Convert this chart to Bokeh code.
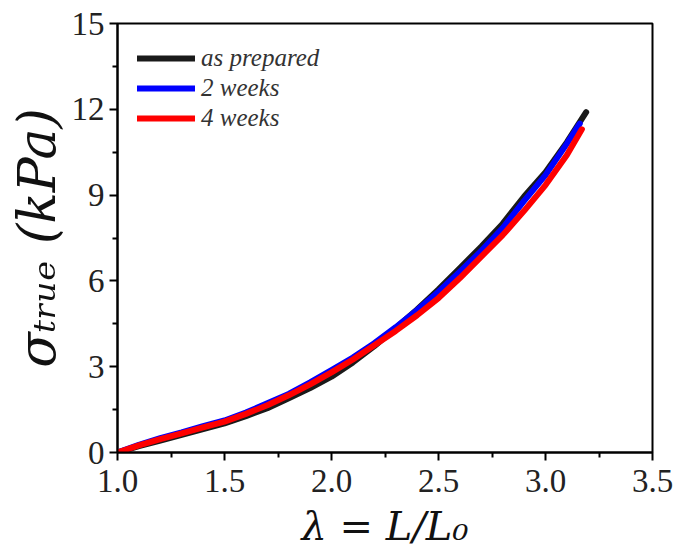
from bokeh.plotting import figure
from bokeh.models import (FixedTicker, PrintfTickFormatter, Legend,
                          LegendItem, Range1d)
from bokeh.embed import file_html
from bokeh.resources import INLINE

# ---- data ----
lam_prep = [1.0, 1.1, 1.2, 1.3, 1.4, 1.5, 1.6, 1.7, 1.8, 1.9, 2.0, 2.1, 2.2,
            2.3, 2.4, 2.5, 2.6, 2.7, 2.8, 2.9, 3.0, 3.1, 3.19]
sig_prep = [0.0, 0.22, 0.42, 0.62, 0.82, 1.02, 1.27, 1.55, 1.9, 2.25, 2.65,
            3.15, 3.72, 4.35, 5.0, 5.7, 6.45, 7.2, 8.0, 8.95, 9.8, 10.85, 11.9]

lam_2w = [1.0, 1.1, 1.2, 1.3, 1.4, 1.5, 1.6, 1.7, 1.8, 1.9, 2.0, 2.1, 2.2,
          2.3, 2.4, 2.5, 2.6, 2.7, 2.8, 2.9, 3.0, 3.1, 3.16]
sig_2w = [0.0, 0.27, 0.5, 0.7, 0.92, 1.12, 1.4, 1.72, 2.05, 2.45, 2.88, 3.32,
          3.82, 4.38, 4.98, 5.62, 6.32, 7.05, 7.85, 8.8, 9.7, 10.8, 11.5]

lam_4w = [1.0, 1.1, 1.2, 1.3, 1.4, 1.5, 1.6, 1.7, 1.8, 1.9, 2.0, 2.1, 2.2,
          2.3, 2.4, 2.5, 2.6, 2.7, 2.8, 2.9, 3.0, 3.1, 3.17]
sig_4w = [0.0, 0.25, 0.47, 0.67, 0.88, 1.08, 1.35, 1.65, 2.0, 2.38, 2.8, 3.25,
          3.75, 4.25, 4.8, 5.4, 6.1, 6.85, 7.6, 8.45, 9.35, 10.4, 11.3]

series_names = ["as prepared", "2 weeks", "4 weeks"]
series_colors = ["#1a1a1a", "#0000ff", "#ff0000"]

x_ticks = [1.0, 1.5, 2.0, 2.5, 3.0, 3.5]
x_minor = [1.25, 1.75, 2.25, 2.75, 3.25]
y_ticks = [0, 3, 6, 9, 12, 15]
y_minor = [1.5, 4.5, 7.5, 10.5, 13.5]

x_label = "λ = L/L₀"
y_label = "σₜᵣᵤₑ (kPa)"

SERIF = "Liberation Serif"
MATH = "DejaVu Serif"

p = figure(width=676, height=560, output_backend="svg", toolbar_location=None,
           x_range=Range1d(1.0, 3.5), y_range=Range1d(0, 15),
           min_border_left=117, min_border_right=24, min_border_top=23,
           min_border_bottom=108)
p.grid.visible = False
p.outline_line_color = "black"
p.outline_line_width = 2
p.background_fill_color = "white"
p.border_fill_color = "white"

renderers = []
for xs, ys, c in [(lam_prep, sig_prep, series_colors[0]),
                  (lam_2w, sig_2w, series_colors[1]),
                  (lam_4w, sig_4w, series_colors[2])]:
    r = p.line(xs, ys, line_color=c, line_width=6, line_join="round",
               line_cap="round")
    renderers.append(r)

for ax in (p.xaxis[0], p.yaxis[0]):
    ax.axis_line_width = 2
    ax.axis_line_color = "black"
    ax.major_tick_line_width = 2
    ax.minor_tick_line_width = 2
    ax.major_tick_out = 8
    ax.major_tick_in = 0
    ax.minor_tick_out = 5
    ax.minor_tick_in = 0
    ax.major_label_text_font = SERIF
    ax.major_label_text_font_size = "33px"
    ax.major_label_text_color = "#222222"
    ax.axis_label_text_font = MATH
    ax.axis_label_text_font_style = "italic"
    ax.axis_label_text_color = "#111111"

p.xaxis[0].ticker = FixedTicker(ticks=x_ticks, minor_ticks=x_minor)
p.yaxis[0].ticker = FixedTicker(ticks=y_ticks, minor_ticks=y_minor)
p.xaxis[0].formatter = PrintfTickFormatter(format="%.1f")
p.yaxis[0].formatter = PrintfTickFormatter(format="%d")
p.xaxis[0].major_label_standoff = 9
p.yaxis[0].major_label_standoff = 5

p.xaxis[0].axis_label = x_label
p.xaxis[0].axis_label_text_font_size = "40px"
p.xaxis[0].axis_label_standoff = 8
p.yaxis[0].axis_label = y_label
p.yaxis[0].axis_label_text_font_size = "52px"
p.yaxis[0].axis_label_standoff = 2

legend = Legend(items=[LegendItem(label=n, renderers=[r])
                       for n, r in zip(series_names, renderers)],
                location="top_left", border_line_alpha=0,
                background_fill_alpha=0, margin=10, padding=10,
                glyph_width=58, glyph_height=30, label_height=30,
                spacing=0, label_standoff=6,
                label_text_font=SERIF, label_text_font_style="italic",
                label_text_font_size="25px", label_text_color="#333333")
p.add_layout(legend)

open("out.html", "w").write(file_html(p, INLINE))
